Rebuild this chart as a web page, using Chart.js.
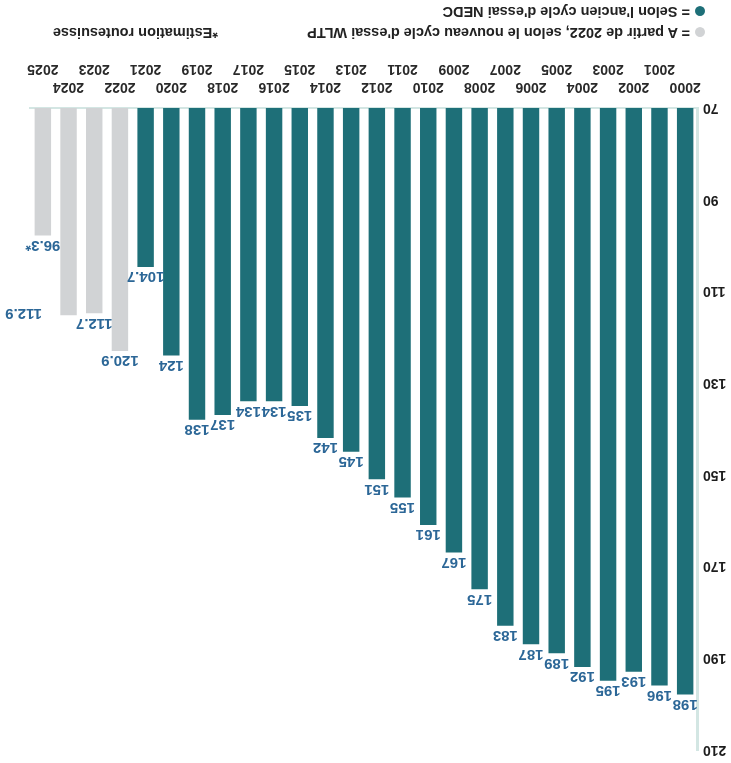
<!DOCTYPE html>
<html>
<head>
<meta charset="utf-8">
<script src="https://cdn.jsdelivr.net/npm/chart.js@4.4.1/dist/chart.umd.min.js"></script>
<style>
  html, body { margin: 0; padding: 0; background: #ffffff; }
  #wrap { position: relative; width: 731px; height: 763px; transform: rotate(180deg); transform-origin: 50% 50%; background:#fff; }
  #chartBox { position: absolute; left: 0; top: 0; width: 731px; height: 763px; }
  .leg { position: absolute; font-family: "Liberation Sans", Arial, sans-serif; font-weight: bold; font-size: 14.5px; color: #222; white-space: nowrap; line-height: 17px; }
  .dot { display: inline-block; width: 10px; height: 10px; border-radius: 50%; vertical-align: -1px; margin-right: 5px; }
</style>
</head>
<body>
<div id="wrap">
  <div id="chartBox"><canvas id="c" width="731" height="763"></canvas></div>
  <div class="leg" style="left:26px; top:722px;"><span class="dot" style="background:#d1d3d5"></span>= A partir de 2022, selon le nouveau cycle d'essai WLTP</div>
  <div class="leg" style="left:513px; top:722px;">*Estimation routesuisse</div>
  <div class="leg" style="left:26px; top:743px;"><span class="dot" style="background:#1e6f78"></span>= Selon l'ancien cycle d'essai NEDC</div>
</div>
<script>
const years = ['2000','2001','2002','2003','2004','2005','2006','2007','2008','2009','2010','2011','2012','2013','2014','2015','2016','2017','2018','2019','2020','2021','2022','2023','2024','2025'];
const nedcValues = [198,196,193,195,192,189,187,183,175,167,161,155,151,145,142,135,134,134,137,138,124,104.7,null,null,null,null];
// grey bars as drawn in the picture (their bar ends sit slightly beyond the printed labels)
const wltpValues = [null,null,null,null,null,null,null,null,null,null,null,null,null,null,null,null,null,null,null,null,null,null,123,114.8,115.2,97.8];
const valueLabels = ['198','196','193','195','192','189','187','183','175','167','161','155','151','145','142','135','134','134','137','138','124','104.7','120.9','112.7','112.9','96.3*'];
const yTicks = [70,90,110,130,150,170,190,210];

const TEAL = '#1e6f78';
const GREY = '#d1d3d5';
const LABEL_BLUE = '#2c6797';
const AXIS_LINE = '#d3e6e3';

const valueLabelPlugin = {
  id: 'valueLabels',
  afterDatasetsDraw(chart, args, opts) {
    const ctx = chart.ctx;
    ctx.save();
    ctx.font = 'bold 15px "Liberation Sans", Arial, sans-serif';
    ctx.fillStyle = LABEL_BLUE;
    ctx.textAlign = 'center';
    ctx.textBaseline = 'bottom';
    chart.data.datasets.forEach((ds, di) => {
      const meta = chart.getDatasetMeta(di);
      meta.data.forEach((el, i) => {
        if (ds.data[i] === null || ds.data[i] === undefined) return;
        const shift = (opts.shifts && opts.shifts[years[i]]) || [0, 0];
        ctx.fillText(valueLabels[i], el.x + shift[0], el.y - 2 + shift[1]);
      });
    });
    ctx.restore();
  }
};

new Chart(document.getElementById('c'), {
  type: 'bar',
  data: {
    labels: years.map((y, i) => i % 2 === 0 ? [y] : ['', y]),
    datasets: [
      { label: 'NEDC', data: nedcValues, backgroundColor: TEAL, grouped: false, categoryPercentage: 1, barPercentage: 0.64 },
      { label: 'WLTP', data: wltpValues, backgroundColor: GREY, grouped: false, categoryPercentage: 1, barPercentage: 0.64 }
    ]
  },
  plugins: [valueLabelPlugin],
  options: {
    responsive: false,
    animation: false,
    devicePixelRatio: 1,
    layout: { padding: { top: 11, right: 30, bottom: 60, left: 0 } },
    plugins: {
      legend: { display: false },
      tooltip: { enabled: false },
      valueLabels: { shifts: { '2024': [45, 12] } }
    },
    scales: {
      x: {
        grid: { display: false, drawTicks: false },
        border: { display: true, color: AXIS_LINE, width: 2 },
        ticks: {
          autoSkip: false, maxRotation: 0, minRotation: 0, padding: 12,
          color: '#2a2a2a',
          font: { family: '"Liberation Sans", Arial, sans-serif', size: 14, weight: 'bold', lineHeight: 1.3 }
        },
        afterFit(scale) { scale.height = 48; }
      },
      y: {
        min: 70, max: 210,
        afterBuildTicks(scale) { scale.ticks = yTicks.map(v => ({ value: v })); },
        grid: { display: false, drawTicks: false },
        border: { display: true, color: AXIS_LINE, width: 3 },
        ticks: {
          padding: 5, color: '#1d1d1d',
          font: { family: '"Liberation Sans", Arial, sans-serif', size: 14, weight: 'bold' }
        },
        afterFit(scale) { scale.width = 33; }
      }
    }
  }
});
</script>
</body>
</html>
